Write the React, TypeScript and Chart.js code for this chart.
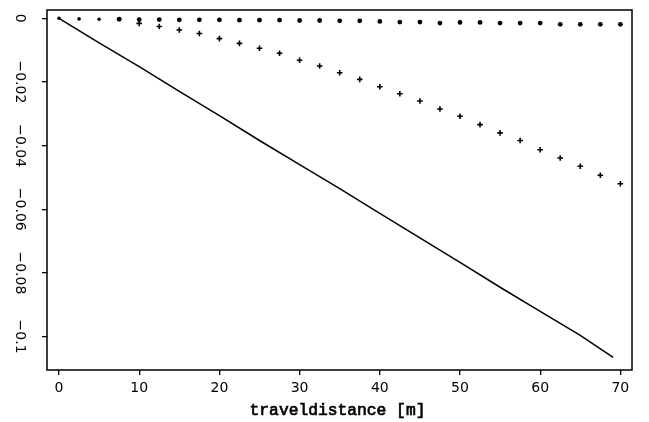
import React, { useEffect, useRef } from "react";
import { Chart, registerables } from "chart.js";

Chart.register(...registerables);

// Solid line
const lineX = [0, 5, 10, 15, 20, 25, 30, 35, 40, 45, 50, 55, 60, 65, 69.1];
const lineY = [0, -0.0077, -0.0152, -0.0230, -0.0306, -0.0384, -0.0460, -0.0535, -0.0613, -0.0690, -0.0767, -0.0845, -0.0921, -0.0996, -0.1065];

// Filled dots
const dotX = [0, 2.5, 5, 7.5, 10, 12.5, 15, 17.5, 20, 22.5, 25, 27.5, 30, 32.5, 35, 37.5, 40, 42.5, 45, 47.5, 50, 52.5, 55, 57.5, 60, 62.5, 65, 67.5, 70];
const dotY = [0, -0.0002, -0.0003, -0.0003, -0.0004, -0.0004, -0.0005, -0.0005, -0.0005, -0.0006, -0.0006, -0.0006, -0.0007, -0.0007, -0.0008, -0.0008, -0.0010, -0.0012, -0.0012, -0.0015, -0.0013, -0.0013, -0.0015, -0.0015, -0.0015, -0.0019, -0.0019, -0.0019, -0.0019];

// Plus markers
const plusX = [10, 12.5, 15, 17.5, 20, 22.5, 25, 27.5, 30, 32.5, 35, 37.5, 40, 42.5, 45, 47.5, 50, 52.5, 55, 57.5, 60, 62.5, 65, 67.5, 70];
const plusY = [-0.0016, -0.0026, -0.0037, -0.0048, -0.0064, -0.0079, -0.0094, -0.0110, -0.0132, -0.0150, -0.0171, -0.0192, -0.0215, -0.0237, -0.0260, -0.0285, -0.0308, -0.0334, -0.0360, -0.0384, -0.0413, -0.0439, -0.0465, -0.0493, -0.0520];

const xTicks = [0, 10, 20, 30, 40, 50, 60, 70];
const xTickLabels = ["0", "10", "20", "30", "40", "50", "60", "70"];
const yTicks = [0, -0.02, -0.04, -0.06, -0.08, -0.1];
const yTickLabels = ["0", "\u22120.02", "\u22120.04", "\u22120.06", "\u22120.08", "\u22120.1"];
const xTitle = "traveldistance [m]";

const pts = (xs: number[], ys: number[]) => xs.map((x, i) => ({ x, y: ys[i] }));

export default function App() {
  const ref = useRef<HTMLCanvasElement | null>(null);

  useEffect(() => {
    if (!ref.current) return;
    const textPlugin = {
      id: "textPlugin",
      afterDraw(chart: any) {
        const ctx = chart.ctx;
        const a = chart.chartArea;
        const xs = chart.scales.x;
        const ys = chart.scales.y;
        ctx.save();
        ctx.strokeStyle = "#000";
        ctx.lineWidth = 1.5;
        ctx.strokeRect(a.left, a.top, a.right - a.left, a.bottom - a.top);
        ctx.fillStyle = "#000";
        ctx.font = "14px 'DejaVu Sans'";
        ctx.textAlign = "center";
        ctx.textBaseline = "middle";
        xTicks.forEach((v, i) => {
          ctx.fillText(xTickLabels[i], xs.getPixelForValue(v), a.bottom + 18);
        });
        yTicks.forEach((v, i) => {
          const y = ys.getPixelForValue(v);
          ctx.save();
          ctx.translate(a.left - 27, y);
          ctx.rotate(Math.PI / 2);
          ctx.fillText(yTickLabels[i], 0, 0);
          ctx.restore();
        });
        ctx.font = "16.3px 'Liberation Mono'";
        ctx.textBaseline = "alphabetic";
        ctx.lineWidth = 0.7;
        const tx = (a.left + a.right) / 2 - 2;
        ctx.fillText(xTitle, tx, a.bottom + 45);
        ctx.strokeText(xTitle, tx, a.bottom + 45);
        ctx.restore();
      },
    };

    const chart = new Chart(ref.current, {
      type: "scatter",
      data: {
        datasets: [
          {
            data: pts(lineX, lineY),
            showLine: true,
            borderColor: "#000",
            borderWidth: 1.5,
            pointRadius: 0,
            fill: false,
          },
          {
            data: pts(dotX, dotY),
            showLine: false,
            pointStyle: "circle",
            pointRadius: (c: any) => (c.dataIndex < 3 ? 1.8 : 2.4),
            backgroundColor: "#000",
            borderColor: "#000",
            borderWidth: 0,
          },
          {
            data: pts(plusX, plusY),
            showLine: false,
            pointStyle: "cross",
            pointRadius: 2.8,
            borderColor: "#000",
            borderWidth: 1.6,
          },
        ],
      },
      options: {
        responsive: false,
        animation: false,
        events: [],
        layout: { padding: { left: 42, top: 10, right: 17, bottom: 47 } },
        plugins: { legend: { display: false }, tooltip: { enabled: false } },
        scales: {
          x: {
            type: "linear",
            min: -1.5,
            max: 71.45,
            border: { display: false },
            grid: { drawOnChartArea: false, drawTicks: true, tickLength: 5, color: "#000", lineWidth: 1.3 },
            ticks: { display: false, stepSize: 10, includeBounds: false },
          },
          y: {
            type: "linear",
            min: -0.1105,
            max: 0.0026,
            border: { display: false },
            grid: { drawOnChartArea: false, drawTicks: true, tickLength: 5, color: "#000", lineWidth: 1.3 },
            ticks: { display: false, stepSize: 0.02, includeBounds: false },
          },
        },
      },
      plugins: [textPlugin],
    });
    return () => chart.destroy();
  }, []);

  return (
    <div style={{ position: "fixed", left: 0, top: 0, width: 649, height: 422, background: "#fff" }}>
      <canvas ref={ref} width={649} height={422} style={{ display: "block" }} />
    </div>
  );
}
